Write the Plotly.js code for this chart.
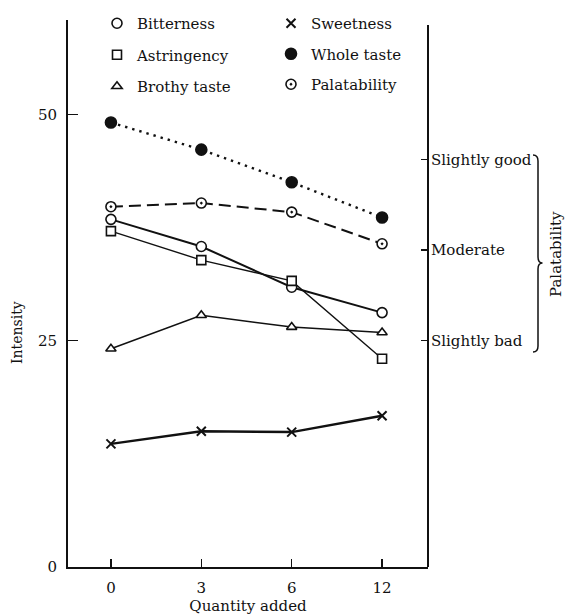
<!DOCTYPE html>
<html>
<head>
<meta charset="utf-8">
<script src="https://cdn.plot.ly/plotly-3.0.1.min.js"></script>
<style>
  html, body { margin: 0; padding: 0; background: #fff; }
  #chart { width: 565px; height: 615px; }
</style>
</head>
<body>
<div id="chart"></div>
<script>
// ---- data ----
const categories = ['0', '3', '6', '12'];          // Quantity added
const bitterness   = [38.4, 35.4, 30.9, 28.1];
const astringency  = [37.1, 33.9, 31.6, 23.0];
const brothyTaste  = [24.1, 27.8, 26.5, 25.9];
const sweetness    = [13.6, 15.0, 14.9, 16.7];
const wholeTaste   = [49.1, 46.1, 42.5, 38.6];
const palatability = [39.8, 40.2, 39.2, 35.7];
const intensityTicks = [0, 25, 50];
const palatabilityLevels = [25, 35, 45];
const palatabilityLabels = ['Slightly bad', 'Moderate', 'Slightly good'];

const FONT = 'DejaVu Serif, Liberation Serif, serif';
const INK = '#111';

const series = [
  {name: 'Bitterness',   y: bitterness,   symbol: 'circle',      color: '#fff', lw: 2.0, dash: 'solid', size: 10, legend: 'legend',  yaxis: 'y'},
  {name: 'Astringency',  y: astringency,  symbol: 'square',      color: '#fff', lw: 1.4, dash: 'solid', size: 9,  legend: 'legend',  yaxis: 'y'},
  {name: 'Brothy taste', y: brothyTaste,  symbol: 'triangle-up', color: '#fff', lw: 1.5, dash: 'solid', size: 9,  legend: 'legend',  yaxis: 'y'},
  {name: 'Sweetness',    y: sweetness,    symbol: 'x-thin-open', color: INK,    lw: 2.5, dash: 'solid', size: 9,  legend: 'legend2', yaxis: 'y'},
  {name: 'Whole taste',  y: wholeTaste,   symbol: 'circle',      color: INK,    lw: 2.4, dash: '2.4px,5px', size: 11, legend: 'legend2', yaxis: 'y'},
  {name: 'Palatability', y: palatability, symbol: 'circle-dot',  color: '#fff', lw: 2.0, dash: '12px,6px', size: 10, legend: 'legend2', yaxis: 'y2'}
];

const traces = [];
// lines first (below markers)
series.forEach(s => {
  traces.push({
    type: 'scatter', mode: 'lines', x: categories, y: s.y, yaxis: s.yaxis,
    line: {color: INK, width: s.lw, dash: s.dash},
    showlegend: false, hoverinfo: 'skip'
  });
});
// markers, with legend entries
series.forEach((s, i) => {
  const isX = s.symbol.indexOf('x') === 0;
  traces.push({
    type: 'scatter', mode: 'markers', x: categories, y: s.y, yaxis: s.yaxis, name: s.name,
    legend: s.legend, legendgroup: 'g' + i,
    marker: {
      symbol: s.symbol, size: s.size, color: s.color,
      line: {color: INK, width: isX ? 2 : 1.6}
    }
  });
});

// pixel helpers for decorations outside the plot area
const L = 68, R = 428, T = 20, B = 567;
const px = v => (v - L) / (R - L);
const py = v => (B - v) / (B - T);

const brace = [
  'M', px(533), py(155), 'Q', px(538), py(155), px(538), py(161),
  'L', px(538), py(257), 'Q', px(538), py(263), px(542.5), py(263),
  'Q', px(538), py(263), px(538), py(269),
  'L', px(538), py(346), 'Q', px(538), py(352), px(533), py(352)
].join(' ');

const layout = {
  width: 565, height: 615,
  margin: {l: L, r: 565 - R, t: T, b: 615 - B, pad: 0, autoexpand: false},
  paper_bgcolor: '#fff', plot_bgcolor: '#fff',
  font: {family: FONT, color: INK, size: 15},
  showlegend: true,
  xaxis: {
    type: 'category', categoryarray: categories,
    range: [-0.475, 3.508],
    showline: true, linecolor: INK, linewidth: 2,
    ticks: 'inside', ticklen: 8, tickwidth: 1.5, tickcolor: INK,
    showgrid: false, zeroline: false,
    ticklabelstandoff: 6,
    tickfont: {family: FONT, size: 15, color: INK},
    title: {text: 'Quantity added', font: {family: FONT, size: 15, color: INK}, standoff: 2}
  },
  yaxis: {
    range: [0, 60.42],
    tickvals: intensityTicks,
    showline: true, linecolor: INK, linewidth: 2,
    ticks: 'inside', ticklen: 10, tickwidth: 1.5, tickcolor: INK,
    showgrid: false, zeroline: false,
    ticklabelstandoff: 6,
    tickfont: {family: FONT, size: 15, color: INK}
  },
  yaxis2: {
    overlaying: 'y', side: 'right', anchor: 'x',
    range: [0, 60.42],
    tickvals: palatabilityLevels, ticktext: palatabilityLabels,
    showline: false,
    ticks: 'inside', ticklen: 7, tickwidth: 1.5, tickcolor: INK,
    showgrid: false, zeroline: false,
    ticklabelstandoff: 2,
    tickfont: {family: FONT, size: 15, color: INK}
  },
  legend: {
    x: px(97), y: py(7), xanchor: 'left', yanchor: 'top',
    bgcolor: 'rgba(0,0,0,0)', borderwidth: 0,
    traceorder: 'grouped', tracegroupgap: 9, itemwidth: 30,
    font: {family: FONT, size: 15, color: INK}
  },
  legend2: {
    x: px(271), y: py(7), xanchor: 'left', yanchor: 'top',
    bgcolor: 'rgba(0,0,0,0)', borderwidth: 0,
    traceorder: 'grouped', tracegroupgap: 8, itemwidth: 30,
    font: {family: FONT, size: 15, color: INK}
  },
  shapes: [
    {type: 'line', xref: 'paper', yref: 'paper', x0: 1, x1: 1, y0: 0, y1: py(25),
     line: {color: INK, width: 2}},
    {type: 'path', xref: 'paper', yref: 'paper', path: brace,
     line: {color: INK, width: 1.5}}
  ],
  annotations: [
    {text: 'Intensity', xref: 'paper', yref: 'paper', x: px(17), y: py(333),
     textangle: -90, showarrow: false, xanchor: 'center', yanchor: 'middle',
     font: {family: FONT, size: 14, color: INK}},
    {text: 'Palatability', xref: 'paper', yref: 'paper', x: px(556), y: py(254),
     textangle: -90, showarrow: false, xanchor: 'center', yanchor: 'middle',
     font: {family: FONT, size: 15, color: INK}}
  ]
};

Plotly.newPlot('chart', traces, layout, {displayModeBar: false, staticPlot: true});
</script>
</body>
</html>
